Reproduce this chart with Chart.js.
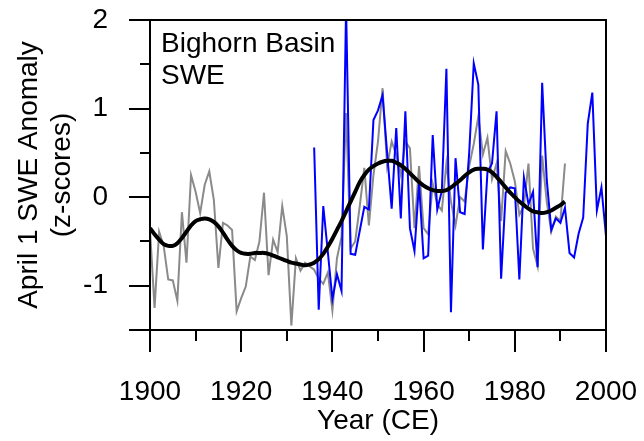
<!DOCTYPE html>
<html>
<head>
<meta charset="utf-8">
<script src="https://cdn.jsdelivr.net/npm/chart.js@4/dist/chart.umd.min.js"></script>
<style>
  html, body { margin: 0; padding: 0; background: #ffffff; }
  #wrap { width: 644px; height: 441px; }
</style>
</head>
<body>
<div id="wrap"><canvas id="c" width="644" height="441"></canvas></div>
<script>
// ---- Data ----
const grayStartYear = 1900;
const grayValues = [
  -0.37, -1.25, -0.39, -0.55, -0.93, -0.94, -1.17, -0.17, -0.74, 0.25,
   0.06, -0.18, 0.14, 0.29, -0.03, -0.80, -0.29, -0.32, -0.37, -1.29,
  -1.14, -1.01, -0.67, -0.71, -0.50, 0.05, -0.88, -0.48, -0.62, -0.10,
  -0.44, -1.45, -0.69, -0.83, -0.74, -0.78, -0.82, -0.92, -0.98, -0.85,
  -1.28, -0.69, -0.45, 0.95, -0.58, -0.50, -0.10, 0.33, -0.32, 0.25,
   0.63, 1.23, 0.35, 0.63, 0.48, 0.25, 0.63, 0.55, -0.35, 0.35,
  -0.35, -0.42, 0.15, -0.08, -0.15, 0.38, -0.05, -0.32, 0.00, -0.05,
   0.35, 0.60, 0.91, 0.48, 0.67, 0.20, 0.38, -0.27, 0.52, 0.38,
   0.18, -0.20, -0.10, 0.38, -0.58, -0.78, 0.47, -0.05, -0.39, -0.22,
  -0.27, 0.38
];
const blueStartYear = 1936;
const blueValues = [
   0.56, -1.27, -0.10, -0.62, -1.15, -0.87, -1.06, 2.15, -0.64, -0.65,
  -0.38, -0.11, -0.14, 0.87, 0.98, 1.15, 0.50, -0.13, 0.78, -0.24,
   0.97, -0.35, -0.61, 0.16, -0.69, -0.66, 0.70, -0.14, 0.07, 1.45,
  -1.30, 0.44, -0.17, -0.19, 0.50, 1.51, 1.27, -0.59, 0.28, 0.38,
   0.97, -0.92, 0.05, 0.11, 0.10, -0.93, 0.22, -0.08, 0.06, -0.79,
   1.29, 0.20, -0.37, -0.24, -0.29, -0.12, -0.63, -0.68, -0.41, -0.23,
   0.83, 1.18, -0.15, 0.11, -0.44
];
const smoothStartYear = 1900;
const smoothValues = [
  -0.35, -0.42, -0.48, -0.53, -0.55, -0.55, -0.52, -0.46, -0.39, -0.32,
  -0.27, -0.25, -0.24, -0.25, -0.28, -0.33, -0.40, -0.48, -0.55, -0.60,
  -0.63, -0.64, -0.64, -0.63, -0.63, -0.63, -0.64, -0.66, -0.68, -0.70,
  -0.72, -0.74, -0.75, -0.76, -0.77, -0.76, -0.74, -0.70, -0.64, -0.56,
  -0.47, -0.37, -0.27, -0.16, -0.05, 0.06, 0.17, 0.25, 0.31, 0.35,
   0.38, 0.40, 0.41, 0.41, 0.39, 0.36, 0.32, 0.27, 0.22, 0.17,
   0.13, 0.10, 0.08, 0.07, 0.07, 0.08, 0.11, 0.15, 0.19, 0.24,
   0.28, 0.31, 0.32, 0.32, 0.31, 0.28, 0.23, 0.17, 0.11, 0.05,
   0.00, -0.05, -0.09, -0.13, -0.16, -0.17, -0.18, -0.17, -0.15, -0.12,
  -0.09, -0.05
];
const xTickValues = [1900, 1920, 1940, 1960, 1980, 2000];
const yTickValues = [-1, 0, 1, 2];
const panelLabel = ['Bighorn Basin', 'SWE'];
const yTitle = ['April 1 SWE Anomaly', '(z-scores)'];
const xTitle = 'Year (CE)';

function toPoints(start, vals) {
  return vals.map((v, i) => ({ x: start + i, y: v }));
}

const FONT = "'Liberation Sans', Arial, sans-serif";

function zeroPad(s) { s.paddingTop = 0; s.paddingBottom = 0; s.paddingLeft = 0; s.paddingRight = 0; }

const frameAndTicks = {
  id: 'frameAndTicks',
  afterDatasetsDraw(chart) {
    const { ctx, chartArea: a, scales: { x, y } } = chart;
    ctx.save();
    ctx.strokeStyle = '#000';
    ctx.lineWidth = 2;
    ctx.strokeRect(a.left, a.top, a.right - a.left, a.bottom - a.top);
    ctx.beginPath();
    for (let v = x.min; v <= x.max + 1e-6; v += 10) {
      const px = Math.round(x.getPixelForValue(v));
      const len = (v % 20 === 0) ? 22 : 11;
      ctx.moveTo(px, a.bottom);
      ctx.lineTo(px, a.bottom + len);
    }
    for (let v = y.min; v <= y.max + 1e-6; v += 0.5) {
      const py = Math.round(y.getPixelForValue(v));
      const major = Number.isInteger(v) || Math.abs(v - y.min) < 1e-6;
      const len = major ? 21 : 10;
      ctx.moveTo(a.left, py);
      ctx.lineTo(a.left - len, py);
    }
    ctx.stroke();
    // panel label
    ctx.fillStyle = '#000';
    ctx.font = '28px ' + FONT;
    ctx.textAlign = 'left';
    ctx.textBaseline = 'alphabetic';
    ctx.fillText(panelLabel[0], a.left + 11, a.top + 32);
    ctx.fillText(panelLabel[1], a.left + 11, a.top + 64);
    ctx.restore();
  }
};

new Chart(document.getElementById('c'), {
  type: 'line',
  data: {
    datasets: [
      { label: 'smooth', data: toPoints(smoothStartYear, smoothValues), borderColor: '#000000', borderWidth: 4, pointRadius: 0, tension: 0.4, order: 0 },
      { label: 'blue', data: toPoints(blueStartYear, blueValues), borderColor: '#0000ff', borderWidth: 2, pointRadius: 0, tension: 0, order: 1 },
      { label: 'gray', data: toPoints(grayStartYear, grayValues), borderColor: '#8a8a8a', borderWidth: 2, pointRadius: 0, tension: 0, order: 2 }
    ]
  },
  options: {
    responsive: false,
    devicePixelRatio: 1,
    animation: false,
    events: [],
    layout: { padding: { top: 20, right: 38, bottom: 0, left: 0 } },
    plugins: { legend: { display: false }, tooltip: { enabled: false }, title: { display: false } },
    scales: {
      x: {
        type: 'linear', min: 1900, max: 2000,
        afterFit(s) { s.height = 111; zeroPad(s); },
        afterBuildTicks(s) { s.ticks = xTickValues.map(v => ({ value: v })); },
        grid: { display: true, drawOnChartArea: false, drawTicks: true, tickLength: 22, tickColor: 'rgba(0,0,0,0)' },
        border: { display: false },
        ticks: { color: '#000', font: { family: FONT, size: 28 }, padding: 23, maxRotation: 0, autoSkip: false, callback: v => String(v) },
        title: { display: true, text: xTitle, color: '#000', font: { family: FONT, size: 28, lineHeight: 1.18 }, padding: { top: 0, bottom: 3 } }
      },
      y: {
        type: 'linear', min: -1.5, max: 2,
        afterFit(s) { s.width = 150; zeroPad(s); },
        afterBuildTicks(s) { s.ticks = yTickValues.map(v => ({ value: v })); },
        grid: { display: true, drawOnChartArea: false, drawTicks: true, tickLength: 21, tickColor: 'rgba(0,0,0,0)' },
        border: { display: false },
        ticks: { color: '#000', font: { family: FONT, size: 28 }, padding: 21, autoSkip: false, callback: v => String(v) },
        title: { display: true, text: yTitle, color: '#000', font: { family: FONT, size: 28, lineHeight: 1.18 }, padding: { top: 13, bottom: 0 } }
      }
    }
  },
  plugins: [frameAndTicks]
});
</script>
</body>
</html>
